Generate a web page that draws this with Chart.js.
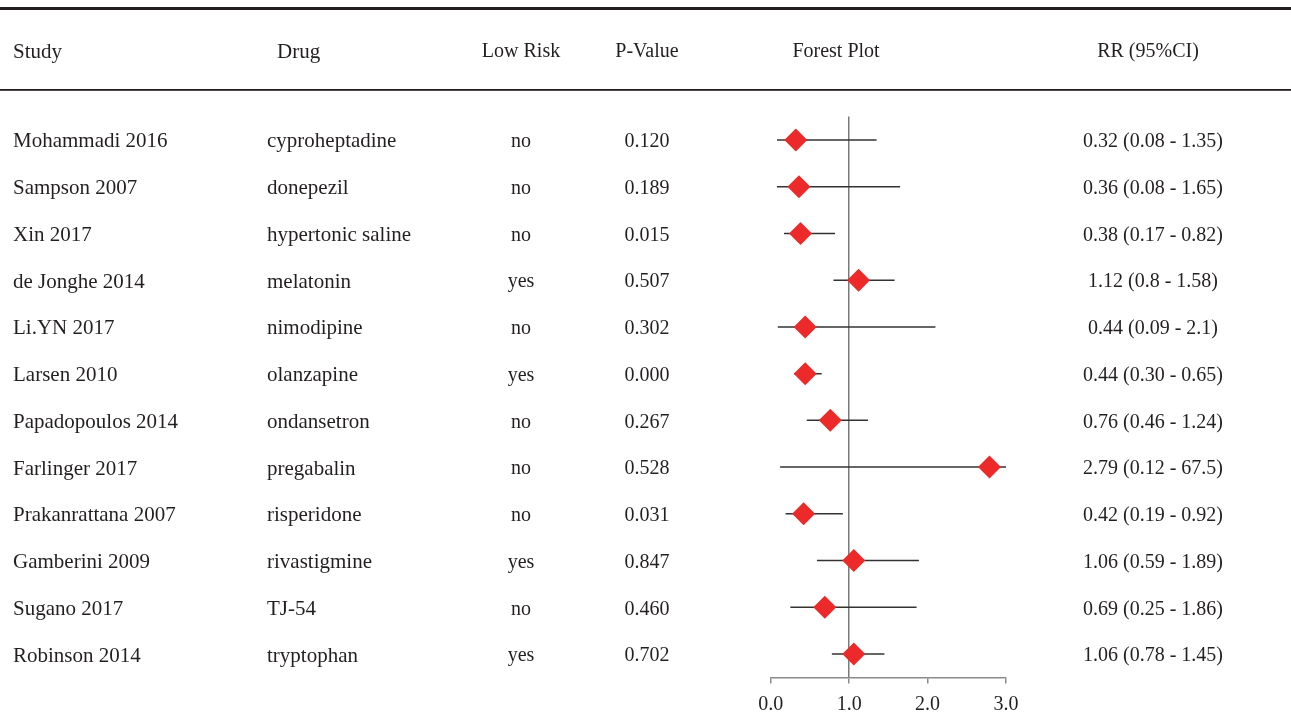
<!DOCTYPE html>
<html>
<head>
<meta charset="utf-8">
<script src="https://cdn.jsdelivr.net/npm/chart.js@4.4.1/dist/chart.umd.min.js"></script>
<style>
  html, body { margin: 0; padding: 0; background: #fff; }
  #forest { display: block; }
</style>
</head>
<body>
<canvas id="forest" width="1291" height="721"></canvas>
<script>
// table data
const studies = ['Mohammadi 2016', 'Sampson 2007', 'Xin 2017', 'de Jonghe 2014', 'Li.YN 2017', 'Larsen 2010',
    'Papadopoulos 2014', 'Farlinger 2017', 'Prakanrattana 2007', 'Gamberini 2009', 'Sugano 2017', 'Robinson 2014'];
const drugs = ['cyproheptadine', 'donepezil', 'hypertonic saline', 'melatonin', 'nimodipine', 'olanzapine',
    'ondansetron', 'pregabalin', 'risperidone', 'rivastigmine', 'TJ-54', 'tryptophan'];
const lowRisk = ['no', 'no', 'no', 'yes', 'no', 'yes', 'no', 'no', 'no', 'yes', 'no', 'yes'];
const pValues = ['0.120', '0.189', '0.015', '0.507', '0.302', '0.000', '0.267', '0.528', '0.031', '0.847', '0.460', '0.702'];
const rr = [0.32, 0.36, 0.38, 1.12, 0.44, 0.44, 0.76, 2.79, 0.42, 1.06, 0.69, 1.06];
const ciLow = [0.08, 0.08, 0.17, 0.8, 0.09, 0.30, 0.46, 0.12, 0.19, 0.59, 0.25, 0.78];
const ciHigh = [1.35, 1.65, 0.82, 1.58, 2.1, 0.65, 1.24, 67.5, 0.92, 1.89, 1.86, 1.45];
const rrLabels = ['0.32 (0.08 - 1.35)', '0.36 (0.08 - 1.65)', '0.38 (0.17 - 0.82)', '1.12 (0.8 - 1.58)',
    '0.44 (0.09 - 2.1)', '0.44 (0.30 - 0.65)', '0.76 (0.46 - 1.24)', '2.79 (0.12 - 67.5)',
    '0.42 (0.19 - 0.92)', '1.06 (0.59 - 1.89)', '0.69 (0.25 - 1.86)', '1.06 (0.78 - 1.45)'];
const xTicks = [0, 1, 2, 3];

const FONT = '"Liberation Serif", "DejaVu Serif", serif';
const TEXT = '#231f20';
const X_MAX = 3;
const TEXT_SHIFT = 2; // liberation sits a bit high with 'middle'

// one short line dataset per CI, clipped at the axis max like the original
const ciSets = studies.map((s, i) => ({
    type: 'line',
    label: s,
    data: [{ x: ciLow[i], y: i }, { x: Math.min(ciHigh[i], X_MAX), y: i }],
    borderColor: '#333333',
    borderWidth: 1.5,
    pointRadius: 0,
    order: 2
}));

// table text + rules drawn around the plot
const tablePlugin = {
    id: 'forestTable',
    afterDraw(chart) {
        const ctx = chart.ctx;
        const y = chart.scales.y;
        ctx.save();

        ctx.fillStyle = TEXT;
        ctx.fillRect(0, 7, 1291, 3);
        ctx.fillRect(0, 89, 1291, 1.8);

        ctx.textBaseline = 'middle';
        const headY = 50 + TEXT_SHIFT;
        ctx.font = '21px ' + FONT;
        ctx.textAlign = 'left';
        ctx.fillText('Study', 13, headY);
        ctx.fillText('Drug', 277, headY);
        ctx.font = '20px ' + FONT;
        ctx.textAlign = 'center';
        ctx.fillText('Low Risk', 521, headY);
        ctx.fillText('P-Value', 647, headY);
        ctx.fillText('Forest Plot', 836, headY);
        ctx.fillText('RR (95%CI)', 1148, headY);

        studies.forEach((s, i) => {
            const py = y.getPixelForValue(i) + TEXT_SHIFT;
            ctx.font = '21px ' + FONT;
            ctx.textAlign = 'left';
            ctx.fillText(s, 13, py);
            ctx.fillText(drugs[i], 267, py);
            ctx.font = '20px ' + FONT;
            ctx.textAlign = 'center';
            ctx.fillText(lowRisk[i], 521, py);
            ctx.fillText(pValues[i], 647, py);
            ctx.fillText(rrLabels[i], 1153, py);
        });
        ctx.restore();
    }
};

const canvas = document.getElementById('forest');
new Chart(canvas.getContext('2d'), {
    type: 'scatter',
    data: {
        datasets: [{
            label: 'RR',
            data: rr.map((v, i) => ({ x: v, y: i })),
            pointStyle: 'rectRot',
            pointRadius: 11.5,
            pointHoverRadius: 11.5,
            backgroundColor: '#ec2a2a',
            borderWidth: 0,
            order: 1
        }, ...ciSets]
    },
    options: {
        responsive: false,
        animation: false,
        layout: { padding: { left: 770.7, right: 285, top: 116.6, bottom: 3.6 } },
        plugins: {
            legend: { display: false },
            tooltip: { enabled: false }
        },
        scales: {
            x: {
                type: 'linear',
                min: 0,
                max: X_MAX,
                afterBuildTicks: (scale) => { scale.ticks = xTicks.map(v => ({ value: v })); },
                afterFit: (scale) => { scale.height = 40; },
                border: { display: true, color: '#8a8a8a', width: 1.5 },
                grid: {
                    color: (c) => (c.tick && c.tick.value === 1) ? '#7a7a7a' : 'rgba(0,0,0,0)',
                    lineWidth: 1.5,
                    tickColor: '#8a8a8a',
                    tickLength: 6,
                    tickWidth: 1.5
                },
                ticks: {
                    color: TEXT,
                    font: { family: FONT, size: 20 },
                    padding: 9,
                    maxRotation: 0,
                    callback: (v) => Number(v).toFixed(1)
                }
            },
            y: {
                type: 'linear',
                display: false,
                reverse: true,
                min: -0.5,
                max: 11.5
            }
        }
    },
    plugins: [tablePlugin]
});
</script>
</body>
</html>
